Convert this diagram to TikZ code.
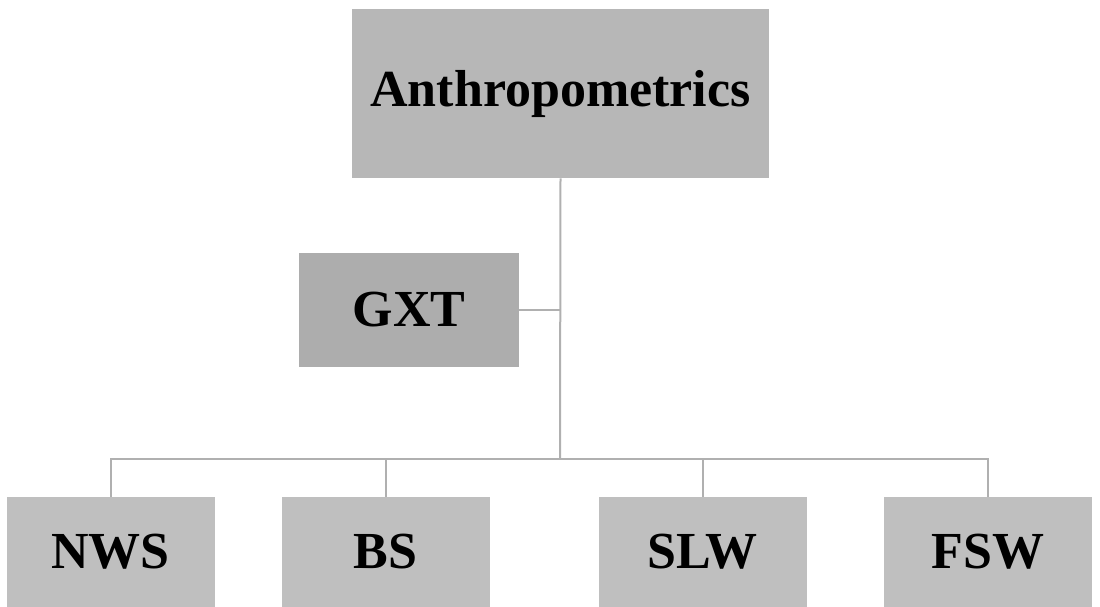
\documentclass[tikz,border=0pt]{standalone}
\usepackage{fontspec}
\setmainfont{Liberation Serif}
\usetikzlibrary{positioning}

\definecolor{topgray}{HTML}{B7B7B7}
\definecolor{midgray}{HTML}{ADADAD}
\definecolor{lowgray}{HTML}{BFBFBF}
\definecolor{linkgray}{HTML}{B0B0B0}

\tikzset{
  box/.style={draw=none, inner sep=0pt, font=\bfseries\fontsize{39}{44}\selectfont},
  leaf/.style={box, fill=lowgray, minimum width=156pt, minimum height=82.5pt},
  link/.style={draw=linkgray, line width=1.5pt}
}

\begin{document}
\begin{tikzpicture}[x=0.75pt,y=-0.75pt]

\useasboundingbox (0,0) rectangle (1100,607);
\clip (0,0) rectangle (1100,607);

% Boxes
\node[box, fill=topgray, minimum width=312.75pt, minimum height=126.75pt] (anthro) at (560.5,93.5) {Anthropometrics};
\node[box, fill=midgray, minimum width=165pt, minimum height=85.5pt] (gxt) at (409,310) {GXT};

\node[leaf] (nws) at (110.5,552) {NWS};
\node[leaf] (bs) at (385.5,552) {BS};
\node[leaf] (slw) at (702.5,552) {SLW};
\node[leaf] (fsw) at (988,552) {FSW};

% Links
\coordinate (bus) at (560,459);
\draw[link] (anthro.south) -- (bus);
\draw[link] (gxt.east) -- (gxt.east -| bus);
\draw[link] (nws.north) |- (bus);
\draw[link] (bs.north) |- (bus);
\draw[link] (slw.north) |- (bus);
\draw[link] (fsw.north) |- (bus);

\end{tikzpicture}
\end{document}
